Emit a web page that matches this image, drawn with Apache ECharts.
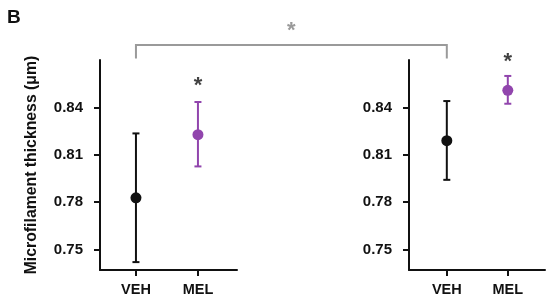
<!DOCTYPE html>
<html><head><meta charset="utf-8">
<script src="https://cdn.jsdelivr.net/npm/echarts@6/dist/echarts.min.js"></script>
<style>html,body{margin:0;padding:0;background:#fff}#c{width:550px;height:305px}</style>
</head><body><div id="c"></div>
<script>
var categories = ['VEH', 'MEL'];
var yTicks = [0.75, 0.78, 0.81, 0.84];
// panel 1 (left)
var leftMean  = [0.7827, 0.8227];
var leftLow   = [0.742, 0.8026];
var leftHigh  = [0.8235, 0.8434];
// panel 2 (right)
var rightMean = [0.8189, 0.8508];
var rightLow  = [0.7941, 0.8423];
var rightHigh = [0.844, 0.8599];
// significance stars (category index, y value)
var leftStars  = [[2, 0.8535]];
var rightStars = [[2, 0.8685]];
var bracketY = 0.8795;   // bracket level across panels (data units)
var bracketEndY = 0.871;

var colors = ['#111111', '#9145ad'];
var FONT = 'Liberation Sans, Arial, sans-serif';

function pts(mean) { return mean.map(function (v, i) { return [i + 1, v]; }); }
function errs(low, high) { return low.map(function (v, i) { return [i + 1, v, high[i]]; }); }

function errorSeries(idx, low, high) {
  return {
    type: 'custom', xAxisIndex: idx, yAxisIndex: idx, clip: false,
    data: errs(low, high),
    renderItem: function (params, api) {
      var x = api.value(0);
      var lo = api.coord([x, api.value(1)]);
      var hi = api.coord([x, api.value(2)]);
      var c = colors[params.dataIndex];
      var w = 3.5;
      var st = { stroke: c, lineWidth: 2 };
      return { type: 'group', children: [
        { type: 'line', shape: { x1: lo[0], y1: lo[1], x2: hi[0], y2: hi[1] }, style: st },
        { type: 'line', shape: { x1: lo[0] - w, y1: lo[1], x2: lo[0] + w, y2: lo[1] }, style: st },
        { type: 'line', shape: { x1: hi[0] - w, y1: hi[1], x2: hi[0] + w, y2: hi[1] }, style: st }
      ]};
    }
  };
}
function pointSeries(idx, mean) {
  return {
    type: 'scatter', xAxisIndex: idx, yAxisIndex: idx, symbolSize: 11, clip: false,
    data: pts(mean),
    itemStyle: { color: function (p) { return colors[p.dataIndex]; }, opacity: 1 },
    z: 5
  };
}
function starSeries(idx, stars) {
  return {
    type: 'scatter', xAxisIndex: idx, yAxisIndex: idx, symbolSize: 0, clip: false,
    data: stars, silent: true,
    label: { show: true, position: 'inside', formatter: '*', color: '#111', fontSize: 22, fontWeight: 'bold', fontFamily: FONT }
  };
}
function xAxis(idx, min, max) {
  return {
    type: 'value', gridIndex: idx, min: min, max: max,
    splitLine: { show: false },
    axisLine: { show: true, lineStyle: { color: '#111', width: 2 } },
    axisTick: { show: true, customValues: [1, 2], length: 6, lineStyle: { color: '#111', width: 2 } },
    axisLabel: { customValues: [1, 2], margin: 12, color: '#111', fontSize: 14.5, fontWeight: 'bold', fontFamily: FONT,
      formatter: function (v) { return categories[Math.round(v) - 1]; } }
  };
}
function yAxis(idx, withName) {
  var a = {
    type: 'value', gridIndex: idx, min: 0.737, max: 0.87,
    splitLine: { show: false },
    axisLine: { show: true, lineStyle: { color: '#111', width: 2 } },
    axisTick: { show: true, customValues: yTicks, length: 6, lineStyle: { color: '#111', width: 2 } },
    axisLabel: { customValues: yTicks, margin: 17, color: '#111', fontSize: 15, fontWeight: 'bold', fontFamily: FONT,
      formatter: function (v) { return v.toFixed(2); } }
  };
  if (withName) {
    a.name = 'Microfilament thickness (\u03bcm)';
    a.nameLocation = 'middle';
    a.nameGap = 60;
    a.nameTextStyle = { color: '#111', fontSize: 15.8, fontWeight: 'bold', fontFamily: FONT };
  }
  return a;
}

var chart = echarts.init(document.getElementById('c'));
chart.setOption({
  animation: false,
  title: { text: 'B', left: 2, top: 3, textStyle: { fontSize: 19, fontWeight: 'bold', color: '#111', fontFamily: FONT } },
  grid: [
    { left: 100, top: 60, width: 137, height: 210 },
    { left: 409, top: 60, width: 136, height: 210 }
  ],
  xAxis: [xAxis(0, 0.42, 2.63), xAxis(1, 0.38, 2.61)],
  yAxis: [yAxis(0, true), yAxis(1, false)],
  series: [
    errorSeries(0, leftLow, leftHigh), pointSeries(0, leftMean), starSeries(0, leftStars),
    errorSeries(1, rightLow, rightHigh), pointSeries(1, rightMean), starSeries(1, rightStars)
  ]
});

// gray significance bracket between the two VEH groups
var a1 = chart.convertToPixel({ gridIndex: 0 }, [1, bracketY]);
var a2 = chart.convertToPixel({ gridIndex: 0 }, [1, bracketEndY]);
var b1 = chart.convertToPixel({ gridIndex: 1 }, [1, bracketY]);
var b2 = chart.convertToPixel({ gridIndex: 1 }, [1, bracketEndY]);
chart.setOption({
  graphic: [
    { type: 'polyline', shape: { points: [[a2[0], a2[1]], [a1[0], a1[1]], [b1[0], b1[1]], [b2[0], b2[1]]] },
      style: { stroke: '#9a9a9a', lineWidth: 2, fill: null } },
    { type: 'text', x: (a1[0] + b1[0]) / 2, y: a1[1] - 14, style: { text: '*', fill: '#9a9a9a', fontSize: 22, fontWeight: 'bold', fontFamily: FONT, align: 'center', verticalAlign: 'middle' } }
  ]
});
</script></body></html>
